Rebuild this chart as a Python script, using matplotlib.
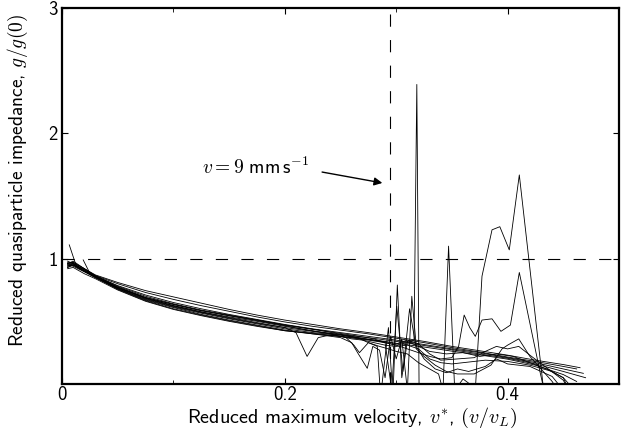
import matplotlib; matplotlib.use("Agg")
import matplotlib.pyplot as plt

plt.rcParams['font.family'] = ['cmss10', 'DejaVu Sans']
plt.rcParams['mathtext.fontset'] = 'cm'
plt.rcParams['axes.unicode_minus'] = False

# smooth curves, shared grid
xs = [0.005, 0.01, 0.02, 0.03, 0.05, 0.075, 0.1, 0.125, 0.15, 0.175, 0.2, 0.225,
      0.25, 0.275, 0.3, 0.325, 0.35, 0.375, 0.4, 0.425, 0.45]
curve_a = [0.96, 0.97, 0.92, 0.87, 0.81, 0.745, 0.695, 0.645, 0.595, 0.55, 0.51, 0.475,
           0.44, 0.41, 0.375, 0.34, 0.30, 0.265, 0.23, 0.19, 0.155]
curve_b = [0.98, 0.96, 0.91, 0.865, 0.80, 0.73, 0.675, 0.625, 0.58, 0.535, 0.495, 0.46,
           0.43, 0.40, 0.365, 0.33, 0.29, 0.255, 0.215, 0.18, 0.14]
curve_c = [0.93, 0.95, 0.90, 0.86, 0.785, 0.71, 0.65, 0.60, 0.555, 0.515, 0.475, 0.44,
           0.41, 0.38, 0.35, 0.315, 0.28, 0.25, 0.21, 0.17, 0.12]
curve_d = [0.95, 0.94, 0.895, 0.85, 0.765, 0.68, 0.62, 0.57, 0.525, 0.485, 0.45, 0.42,
           0.395, 0.37, 0.34, 0.307, 0.273, 0.24, 0.205, 0.16, 0.10]
curve_e = [0.92, 0.93, 0.88, 0.84, 0.75, 0.66, 0.595, 0.545, 0.50, 0.46, 0.425, 0.40,
           0.38, 0.355, 0.325, 0.295, 0.262, 0.232, 0.198, 0.15, 0.075]
smooth_end_x = [0.465, 0.462, 0.468, 0.47, 0.462]
smooth_end_y = [0.13, 0.12, 0.085, 0.05, 0.02]

# noisy curves: common start grid, then own tail
xb = [0.005, 0.01, 0.02, 0.03, 0.05, 0.075, 0.1, 0.125, 0.15, 0.175, 0.2]
n1_head = [0.96, 0.98, 0.92, 0.86, 0.77, 0.685, 0.625, 0.575, 0.53, 0.49, 0.45]
n1_x = [0.21, 0.22, 0.23, 0.24, 0.25, 0.26, 0.27, 0.28, 0.29, 0.3, 0.31, 0.32, 0.33,
        0.34, 0.35, 0.36, 0.38, 0.40, 0.42, 0.44, 0.45, 0.455]
n1_y = [0.41, 0.22, 0.37, 0.39, 0.38, 0.36, 0.35, 0.33, 0.31, 0.30, 0.31, 0.28, 0.20,
        0.17, 0.16, 0.17, 0.19, 0.18, 0.15, 0.10, 0.05, -0.05]

n2_head = [0.94, 0.96, 0.91, 0.86, 0.77, 0.69, 0.635, 0.585, 0.545, 0.505, 0.465]
n2_x = [0.22, 0.24, 0.255, 0.262, 0.267, 0.275, 0.283, 0.286, 0.293, 0.297, 0.301,
        0.305, 0.31, 0.32, 0.33, 0.345, 0.36, 0.375, 0.39, 0.405, 0.42, 0.435, 0.45, 0.46]
n2_y = [0.43, 0.40, 0.37, 0.31, 0.25, 0.33, 0.30, -0.1, 0.45, -0.1, 0.79,
        0.05, 0.34, 0.30, 0.26, 0.24, 0.25, 0.22, 0.24, 0.22, 0.17, 0.12, 0.05, -0.05]

n3_head = [0.95, 0.95, 0.90, 0.85, 0.76, 0.67, 0.61, 0.555, 0.51, 0.47, 0.43]
n3_x = [0.225, 0.25, 0.26, 0.266, 0.274, 0.279, 0.285, 0.29, 0.295, 0.30, 0.305, 0.31,
        0.314, 0.318, 0.325, 0.335, 0.345, 0.355, 0.365, 0.38, 0.39, 0.40, 0.42, 0.44, 0.45]
n3_y = [0.40, 0.37, 0.33, 0.24, 0.125, 0.30, 0.27, 0.05, 0.38, 0.20, 0.36, -0.05,
        0.70, 0.30, 0.20, 0.12, 0.09, 0.12, 0.10, 0.14, 0.20, 0.16, 0.14, 0.06, -0.05]

n4_head = [0.97, 0.97, 0.92, 0.865, 0.78, 0.70, 0.64, 0.59, 0.55, 0.51, 0.47]
n4_x = [0.23, 0.26, 0.28, 0.29, 0.30, 0.31, 0.316, 0.3185, 0.3205, 0.325]
n4_y = [0.43, 0.39, 0.36, 0.33, 0.31, 0.33, 0.35, 2.39, 0.0, -0.1]

n5_head = [0.93, 0.95, 0.90, 0.85, 0.76, 0.675, 0.615, 0.565, 0.52, 0.48, 0.44]
n5_x = [0.225, 0.25, 0.265, 0.275, 0.285, 0.293, 0.3, 0.31, 0.32, 0.33, 0.338, 0.342,
        0.347, 0.3525, 0.36, 0.366, 0.371, 0.377, 0.386, 0.393, 0.4015, 0.4105, 0.433]
n5_y = [0.41, 0.39, 0.37, 0.33, 0.30, 0.28, 0.26, 0.24, 0.17, 0.12, 0.08, -0.05,
        1.10, -0.05, 0.04, 0.0, -0.05, 0.86, 1.23, 1.255, 1.07, 1.668, -0.1]

n6_head = [0.96, 0.96, 0.91, 0.86, 0.775, 0.69, 0.635, 0.585, 0.545, 0.51, 0.47]
n6_x = [0.23, 0.26, 0.28, 0.29, 0.3, 0.31, 0.32, 0.33, 0.34, 0.35, 0.356, 0.361, 0.366,
        0.371, 0.377, 0.386, 0.394, 0.4025, 0.4105, 0.429, 0.434]
n6_y = [0.43, 0.38, 0.35, 0.33, 0.31, 0.28, 0.25, 0.22, 0.20, 0.21, 0.30, 0.55, 0.45,
        0.38, 0.51, 0.52, 0.42, 0.47, 0.89, 0.10, -0.1]

n7_head = [0.94, 0.95, 0.90, 0.85, 0.755, 0.665, 0.60, 0.55, 0.505, 0.465, 0.425]
n7_x = [0.225, 0.25, 0.275, 0.29, 0.296, 0.3005, 0.306, 0.312, 0.318, 0.325, 0.335,
        0.345, 0.355, 0.37, 0.385, 0.395, 0.40, 0.41, 0.42, 0.43, 0.44, 0.445]
n7_y = [0.405, 0.38, 0.35, 0.33, -0.05, 0.62, 0.10, 0.60, 0.28, 0.22, 0.15,
        0.10, 0.08, 0.08, 0.15, 0.28, 0.31, 0.36, 0.22, 0.12, 0.02, -0.05]

n8_head = [0.95, 0.96, 0.91, 0.855, 0.77, 0.685, 0.625, 0.575, 0.535, 0.50, 0.46]
n8_x = [0.225, 0.25, 0.275, 0.29, 0.3, 0.31, 0.32, 0.33, 0.34, 0.355, 0.37, 0.38,
        0.39, 0.40, 0.41, 0.42, 0.435, 0.45, 0.455]
n8_y = [0.425, 0.39, 0.355, 0.34, 0.32, 0.35, 0.32, 0.24, 0.19, 0.20, 0.21, 0.26,
        0.30, 0.28, 0.30, 0.23, 0.13, 0.03, -0.05]

# short stray segments near the origin
s1_x = [0.0065, 0.013]
s1_y = [1.11, 0.936]
s2_x = [0.019, 0.025]
s2_y = [0.99, 0.883]

v_mark = 0.294   # v = 9 mm/s

fig = plt.figure(figsize=(6.24, 4.30), dpi=100)
ax = fig.add_axes([0.0994, 0.107, 0.8926, 0.8744])

lw = 0.6
for ys, ex, ey in zip([curve_a, curve_b, curve_c, curve_d, curve_e], smooth_end_x, smooth_end_y):
    ax.plot(xs + [ex], ys + [ey], color='k', lw=lw)

noisy = [(n1_head, n1_x, n1_y), (n2_head, n2_x, n2_y), (n3_head, n3_x, n3_y),
         (n4_head, n4_x, n4_y), (n5_head, n5_x, n5_y), (n6_head, n6_x, n6_y),
         (n7_head, n7_x, n7_y), (n8_head, n8_x, n8_y)]
for head, tx, ty in noisy:
    ax.plot(xb + tx, head + ty, color='k', lw=lw)

ax.plot(s1_x, s1_y, color='k', lw=lw)
ax.plot(s2_x, s2_y, color='k', lw=lw)

ax.axhline(1.0, color='k', lw=0.8, dashes=(11, 12))
ax.axvline(v_mark, color='k', lw=0.8, dashes=(11, 12))

ax.text(0.126, 1.73, r'$v = \mathsf{9\ mm\,s^{-1}}$', fontsize=14, va='center')
ax.annotate('', xy=(0.290, 1.60), xytext=(0.231, 1.695),
            arrowprops=dict(arrowstyle='-|>', color='k', lw=1.0, mutation_scale=12))

ax.set_xlim(0, 0.5)
ax.set_ylim(0, 3)
ax.set_xticks([0, 0.2, 0.4])
ax.set_xticklabels(['0', '0.2', '0.4'])
ax.set_xticks([0.1, 0.3, 0.5], minor=True)
ax.set_yticks([1, 2, 3])
ax.set_yticklabels(['1', '2', '3'])
ax.tick_params(direction='in', top=True, right=True, labelsize=13.5, length=4, width=0.8, pad=3)
ax.tick_params(axis='x', pad=1.5)
ax.tick_params(which='minor', direction='in', top=True, length=3, width=0.6)
for s in ax.spines.values():
    s.set_linewidth(1.6)

ax.set_xlabel(r'Reduced maximum velocity, $v^{*}$, $(v/v_L)$', fontsize=14.5)
ax.xaxis.set_label_coords(0.52, -0.057)
ax.set_ylabel(r'Reduced quasiparticle impedance, $g/g(0)$', fontsize=14)
ax.yaxis.set_label_coords(-0.058, 0.54)

fig.savefig('out.png', dpi=100)
